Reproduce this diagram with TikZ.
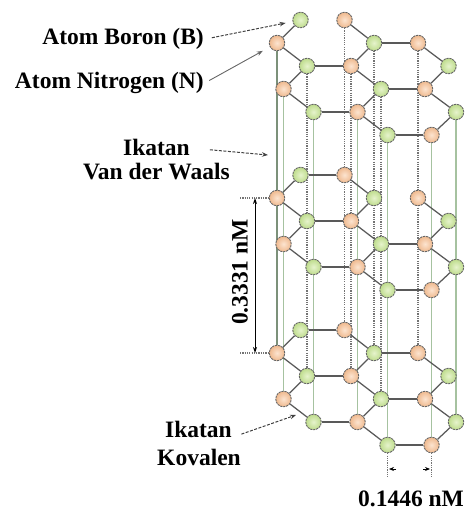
\documentclass[tikz,border=0pt]{standalone}
\usepackage{fontspec}
\setmainfont{Liberation Serif}
\usetikzlibrary{arrows.meta}
\pgfdeclarelayer{back}
\pgfsetlayers{back,main}

% atom fills (inner/outer of the radial shading)
\definecolor{bin}{HTML}{E6F3CC}
\definecolor{bout}{HTML}{BEDC8C}
\definecolor{nin}{HTML}{FCE4D0}
\definecolor{nout}{HTML}{EFB98E}
% interlayer lines
\definecolor{vgreen}{HTML}{A6C2A0}
\definecolor{vdark}{HTML}{7C917A}

\begin{document}
\begin{tikzpicture}[x=1pt,y=-1pt,
  atom/.style={circle,inner sep=0pt,minimum size=15.5pt,
    inner color=#1in,outer color=#1out,
    draw=black!60,line width=0.9pt,dash pattern=on 2.2pt off 0.8pt},
  bond/.style={draw=black!65,line width=1.25pt},
  vsolid/.style={draw=vgreen,line width=1.1pt},
  vstrong/.style={draw=vdark,line width=1.3pt},
  vdot/.style={draw=black!55,line width=1.1pt,dash pattern=on 1.2pt off 1.1pt},
  lbl/.style={font=\fontsize{23.5}{26}\selectfont\bfseries,inner sep=0pt},
  ptr/.style={draw=black!75,line width=1pt,dash pattern=on 3pt off 1.5pt,
    -{Stealth[length=6pt,width=4.5pt]}},
  ptrsolid/.style={draw=black!60,line width=0.9pt,
    -{Stealth[length=6pt,width=4.5pt]}},
  dimline/.style={draw=black,line width=1pt,
    {Stealth[length=6pt,width=4pt]}-{Stealth[length=6pt,width=4pt]}},
  dimtip/.style={draw=black,line width=0.8pt,-{Stealth[length=5pt,width=4pt]}}
]
\useasboundingbox (0,0) rectangle (468,510);

% three stacked h-BN sheets (B = green, N = orange)
\foreach \L/\o in {a/0,b/155,c/310}{
  \foreach \n/\x/\y/\s in {1/300.5/20/b, 2/344.5/20/n, 3/277/43/n, 4/374/43/b,
      5/418/43/n, 6/307/66/b, 7/351/66/n, 8/448.5/66/b, 9/283.5/89/n,
      10/381/89/b, 11/425/89/n, 12/313.5/112/b, 13/357.5/112/n,
      14/456/112/b, 15/387.5/135/b, 16/431.5/135/n}{
    \node[atom=\s] (\L\n) at (\x,\y+\o) {};
  }
}

\begin{pgfonlayer}{back}
  % van der Waals links between the sheets
  \draw[vstrong] (a3) -- (c3);
  \foreach \n in {9,12,13,14,15,16} \draw[vsolid] (a\n) -- (c\n);
  \foreach \n in {2,4,5,6,7,10} \draw[vdot] (a\n) -- (c\n);
  % covalent bonds inside each sheet
  \foreach \L in {a,b,c}{
    \foreach \p/\q in {1/3,2/4,3/6,4/7,5/8,6/7,6/9,7/10,8/11,9/12,10/11,
        10/13,11/14,12/13,13/15,14/16,15/16}
      \draw[bond] (\L\p) -- (\L\q);
  }
  \draw[bond] (b1) -- (b2);
  \draw[bond] (c1) -- (c2);
  \draw[bond] (a4) -- (a5);
  \draw[bond] (c4) -- (c5);
\end{pgfonlayer}

% interlayer spacing
\coordinate (e1) at (240,198);
\coordinate (e2) at (240,353);
\draw[vdot] (e1) -- (b3);
\draw[vdot] (e2) -- (c3);
\coordinate (d1) at (255,198);
\coordinate (d2) at (255,353);
\draw[dimline] (d1) -- (d2);
\node[lbl,rotate=90] (gap) at (240,272) {0.3331 nM};

% in-plane spacing
\coordinate (f1) at (387.5,478);
\coordinate (f2) at (431.5,478);
\draw[vdot] (c15) -- (f1);
\draw[vdot] (c16) -- (f2);
\coordinate (t1a) at (396,469);
\coordinate (t1b) at (389,469);
\coordinate (t2a) at (423,469);
\coordinate (t2b) at (430,469);
\draw[dimtip] (t1a) -- (t1b);
\draw[dimtip] (t2a) -- (t2b);
\node[lbl,anchor=base] (pitch) at (411,506) {0.1446 nM};

% labels
\node[lbl,anchor=base east] (boron) at (204,45) {Atom Boron (B)};
\node[lbl,anchor=base east] (nitrogen) at (204,89) {Atom Nitrogen (N)};
\node[lbl,anchor=base] (vdw1) at (156.5,156) {Ikatan};
\node[lbl,anchor=base] (vdw2) at (156.5,179.5) {Van der Waals};
\node[lbl,anchor=base] (kov1) at (198.5,437) {Ikatan};
\node[lbl,anchor=base] (kov2) at (199,465) {Kovalen};

\coordinate (vdwt) at (268,155);
\coordinate (kovt) at (296,415);
\draw[ptr,shorten <=8pt,shorten >=7pt] (boron.east) -- (a1);
\draw[ptrsolid,shorten <=6pt,shorten >=8pt] (nitrogen.east) -- (a3);
\draw[ptr,shorten <=20pt] (vdw1.east) -- (vdwt);
\draw[ptr,shorten <=10pt] (kov1.south east) -- (kovt);
\end{tikzpicture}
\end{document}
